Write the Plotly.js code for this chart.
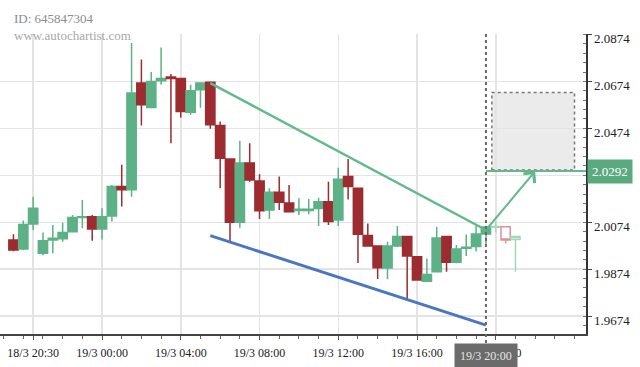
<!DOCTYPE html>
<html>
<head>
<meta charset="utf-8">
<script src="https://cdn.plot.ly/plotly-3.0.1.min.js"></script>
<style>html,body{margin:0;padding:0;background:#fff;}#chart{width:640px;height:367px;}</style>
</head>
<body>
<div id="chart"></div>
<script>
// ---- data (30-minute candles) ----
const times = [
 '2024-03-18 19:30','2024-03-18 20:00','2024-03-18 20:30','2024-03-18 21:00','2024-03-18 21:30',
 '2024-03-18 22:00','2024-03-18 22:30','2024-03-18 23:00','2024-03-18 23:30','2024-03-19 00:00',
 '2024-03-19 00:30','2024-03-19 01:00','2024-03-19 01:30','2024-03-19 02:00','2024-03-19 02:30',
 '2024-03-19 03:00','2024-03-19 03:30','2024-03-19 04:00','2024-03-19 04:30','2024-03-19 05:00',
 '2024-03-19 05:30','2024-03-19 06:00','2024-03-19 06:30','2024-03-19 07:00','2024-03-19 07:30',
 '2024-03-19 08:00','2024-03-19 08:30','2024-03-19 09:00','2024-03-19 09:30','2024-03-19 10:00',
 '2024-03-19 10:30','2024-03-19 11:00','2024-03-19 11:30','2024-03-19 12:00','2024-03-19 12:30',
 '2024-03-19 13:00','2024-03-19 13:30','2024-03-19 14:00','2024-03-19 14:30','2024-03-19 15:00',
 '2024-03-19 15:30','2024-03-19 16:00','2024-03-19 16:30','2024-03-19 17:00','2024-03-19 17:30',
 '2024-03-19 18:00','2024-03-19 18:30','2024-03-19 19:00','2024-03-19 19:30'];
const openP = [1.9998,1.9960,2.0067,1.9942,1.9998,2.0004,2.0034,2.0094,2.0098,2.0045,
 2.0101,2.0226,2.0212,2.0667,2.0563,2.0677,2.0693,2.0686,2.0543,2.0639,
 2.0670,2.0486,2.0344,2.0074,2.0326,2.0250,2.0126,2.0202,2.0156,2.0124,
 2.0124,2.0133,2.0161,2.0084,2.0269,2.0219,2.0018,1.9973,1.9879,1.9973,
 2.0013,1.9927,1.9823,1.9863,2.0013,1.9904,1.9963,1.9971,2.0024];
const highP = [2.0023,2.0081,2.0183,2.0030,2.0062,2.0072,2.0105,2.0169,2.0105,2.0134,
 2.0233,2.0319,2.0838,2.0767,2.0714,2.0819,2.0706,2.0689,2.0660,2.0667,
 2.0673,2.0503,2.0344,2.0421,2.0411,2.0279,2.0219,2.0269,2.0233,2.0176,
 2.0173,2.0178,2.0247,2.0306,2.0343,2.0219,2.0069,1.9973,1.9991,2.0058,
 2.0013,1.9927,1.9920,2.0055,2.0013,1.9977,2.0022,2.0060,2.0057];
const lowP = [1.9951,1.9956,2.0041,1.9933,1.9942,1.9991,2.0030,2.0048,1.9995,2.0001,
 2.0077,2.0141,2.0183,2.0486,2.0563,2.0660,2.0411,2.0520,2.0532,2.0562,
 2.0472,2.0219,1.9991,2.0051,2.0247,2.0088,2.0088,2.0126,2.0117,2.0105,
 2.0108,2.0058,2.0062,2.0058,2.0171,1.9900,1.9970,1.9832,1.9831,1.9969,
 1.9744,1.9828,1.9823,1.9863,1.9863,1.9899,1.9930,1.9949,1.9981];
const closeP = [1.9956,2.0065,2.0134,1.9995,2.0006,2.0030,2.0094,2.0098,2.0045,2.0098,
 2.0226,2.0212,2.0625,2.0575,2.0674,2.0686,2.0686,2.0546,2.0634,2.0667,
 2.0489,2.0347,2.0074,2.0326,2.0254,2.0123,2.0202,2.0159,2.0119,2.0129,
 2.0129,2.0161,2.0077,2.0257,2.0226,2.0023,1.9973,1.9880,1.9973,2.0013,
 1.9930,1.9828,1.9852,2.0007,1.9904,1.9960,1.9968,2.0024,2.0054];

// later candles (hollow)
const laterTimes = ['2024-03-19 20:00','2024-03-19 20:30','2024-03-19 21:00'];
const laterOpen  = [2.0053,2.0055,2.0001];
const laterHigh  = [2.0077,2.0055,2.0013];
const laterLow   = [2.0030,1.9984,1.9863];
const laterClose = [2.0056,1.9998,2.0013];

// pattern lines
const upperTimes = ['2024-03-19 05:30','2024-03-19 19:30'];
const upperPrices = [2.0667, 2.0041];
const lowerTimes = ['2024-03-19 05:30','2024-03-19 19:30'];
const lowerPrices = [2.0017, 1.9636];
const arrowTimes = ['2024-03-19 19:30','2024-03-19 22:00'];
const arrowPrices = [2.0041, 2.0292];
const targetTimes = ['2024-03-19 19:30','2024-03-20 00:35'];
const targetPrices = [2.0292, 2.0292];
const targetLabel = '2.0292';
const boxTimes = ['2024-03-19 19:48','2024-03-20 00:00'];
const boxPrices = [2.0297, 2.0627];
const nowTime = '2024-03-19 19:30';
const nowLabel = '19/3 20:00';

// axes
const xRange = ['2024-03-18 18:49','2024-03-20 00:35'];
const xTickVals = ['2024-03-18 20:30','2024-03-19 00:00','2024-03-19 04:00','2024-03-19 08:00','2024-03-19 12:00','2024-03-19 16:00','2024-03-19 20:00'];
const xTickText = ['18/3 20:30','19/3 00:00','19/3 04:00','19/3 08:00','19/3 12:00','19/3 16:00','19/3 20:00'];
const yRange = [1.9598, 2.0876];
const yTickVals = [2.0874, 2.0674, 2.0474, 2.0274, 2.0074, 1.9874, 1.9674];
const yTickText = ['2.0874','2.0674','2.0474','','2.0074','1.9874','1.9674'];

const GREEN = '#5cb187';
const RED = '#9c2c2f';
const LINEGREEN = '#62b98c';
const BLUE = '#4a77c0';
const FONT = '"Liberation Serif", "DejaVu Serif", serif';

const traces = [
 {type:'candlestick', x:times, open:openP, high:highP, low:lowP, close:closeP,
  increasing:{line:{color:GREEN,width:1.5}, fillcolor:GREEN},
  decreasing:{line:{color:RED,width:1.5}, fillcolor:RED},
  whiskerwidth:0, hoverinfo:'skip'},
 {type:'candlestick', x:laterTimes, open:laterOpen, high:laterHigh, low:laterLow, close:laterClose,
  increasing:{line:{color:'#a5d6bc',width:1.5}, fillcolor:'#ffffff'},
  decreasing:{line:{color:'#d99496',width:1.5}, fillcolor:'#ffffff'},
  whiskerwidth:0, hoverinfo:'skip'},
 {type:'scatter', mode:'lines', x:upperTimes, y:upperPrices, line:{color:LINEGREEN,width:2.5}, hoverinfo:'skip'},
 {type:'scatter', mode:'lines', x:lowerTimes, y:lowerPrices, line:{color:BLUE,width:3}, hoverinfo:'skip'},
 {type:'scatter', mode:'lines', x:targetTimes, y:targetPrices, line:{color:LINEGREEN,width:2}, hoverinfo:'skip', cliponaxis:false}
];

const layout = {
 width:640, height:367,
 margin:{l:0, r:54, t:34, b:33},
 paper_bgcolor:'#ffffff', plot_bgcolor:'#ffffff',
 showlegend:false,
 boxgap:0.06, boxgroupgap:0, boxmode:'overlay',
 font:{family:FONT, size:12, color:'#222'},
 xaxis:{type:'date', range:xRange, tickmode:'array', tickvals:xTickVals, ticktext:xTickText,
  ticks:'outside', ticklen:4, tickcolor:'#555', tickwidth:1,
  showline:true, linecolor:'#444', linewidth:1.5,
  showgrid:true, gridcolor:'#e4e4e4', gridwidth:1.5, zeroline:false,
  rangeslider:{visible:false}, fixedrange:true,
  tickfont:{family:FONT, size:12, color:'#222'}, ticklabelstandoff:3,
  minor:{ticks:'outside', ticklen:3, dtick:3600000, tick0:'2024-03-19 00:00', tickcolor:'#666', showgrid:false}},
 yaxis:{side:'right', range:yRange, tickmode:'array', tickvals:yTickVals, ticktext:yTickText,
  ticks:'outside', ticklen:4, tickcolor:'#444',
  showline:true, linecolor:'#333', linewidth:1.5,
  showgrid:true, gridcolor:'#e4e4e4', gridwidth:1.5, zeroline:false, fixedrange:true,
  tickfont:{family:FONT, size:13, color:'#222'}, ticklabelshift:4,
  minor:{ticks:'inside', ticklen:3, dtick:0.004, tick0:1.9674, tickcolor:'#777', showgrid:false}},
 shapes:[
  {type:'rect', xref:'x', yref:'y', x0:boxTimes[0], x1:boxTimes[1], y0:boxPrices[0], y1:boxPrices[1],
   fillcolor:'#ebebeb', line:{color:'#777', width:1.5, dash:'dot'}, layer:'below'},
  {type:'line', xref:'x', yref:'paper', x0:nowTime, x1:nowTime, y0:-0.03, y1:1,
   line:{color:'#666', width:2, dash:'dot'}, layer:'above'}
 ],
 annotations:[
  {xref:'paper', yref:'paper', x:0, y:1, xanchor:'left', yanchor:'middle', xshift:12, yshift:16,
   text:'ID: 645847304', showarrow:false, font:{family:FONT, size:13, color:'#8c8c8c'}},
  {xref:'paper', yref:'paper', x:0, y:1, xanchor:'left', yanchor:'middle', xshift:12, yshift:-1,
   text:'www.autochartist.com', showarrow:false, font:{family:FONT, size:13, color:'#a8a8a8'}},
  {xref:'x', yref:'y', axref:'x', ayref:'y', x:arrowTimes[1], y:arrowPrices[1], ax:arrowTimes[0], ay:arrowPrices[0],
   text:'', showarrow:true, arrowhead:4, arrowsize:1.4, arrowwidth:2, arrowcolor:LINEGREEN},
  {xref:'paper', yref:'y', x:1, y:targetPrices[0], xanchor:'left', yanchor:'middle', xshift:1,
   text:targetLabel, showarrow:false, bgcolor:'#5aaa80', borderpad:4, font:{family:FONT, size:13, color:'#ffffff'}},
  {xref:'x', yref:'paper', x:nowTime, y:0, xanchor:'center', yanchor:'top', yshift:-9,
   text:nowLabel, showarrow:false, bgcolor:'#6b6b6b', borderpad:5, font:{family:FONT, size:12, color:'#e6e6e6'}}
 ]
};

Plotly.newPlot('chart', traces, layout, {staticPlot:true, displayModeBar:false});
</script>
</body>
</html>
